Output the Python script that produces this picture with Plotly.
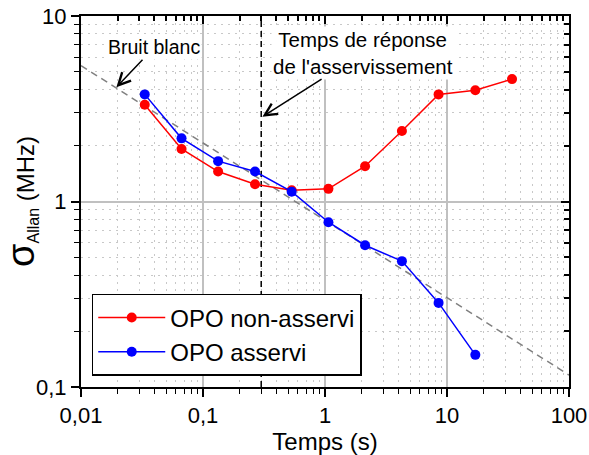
import plotly.graph_objects as go

# ---- data ----
tau = [0.0333, 0.0667, 0.133, 0.267, 0.533, 1.067, 2.13, 4.27, 8.53, 17.07, 34.13]
sigma_free = [3.32, 1.92, 1.45, 1.24, 1.15, 1.17, 1.55, 2.40, 3.78, 3.98, 4.57]
tau_locked = [0.0333, 0.0667, 0.133, 0.267, 0.533, 1.067, 2.13, 4.27, 8.53, 17.07]
sigma_locked = [3.78, 2.19, 1.65, 1.45, 1.13, 0.773, 0.581, 0.477, 0.284, 0.149]
noise_x = [0.01, 100]
noise_y = [5.4, 0.116]
response_time = 0.3
x_tickvals = [0.01, 0.1, 1, 10, 100]
x_ticktext = ["0,01", "0,1", "1", "10", "100"]
y_tickvals = [0.1, 1, 10]
y_ticktext = ["0,1", "1", "10"]

FONT = "Liberation Sans, Arial, sans-serif"
minor_x = [m * 10 ** e for e in range(-2, 2) for m in range(2, 10)]
minor_y = [m * 10 ** e for e in range(-1, 1) for m in range(2, 10)]

fig = go.Figure()
fig.add_trace(go.Scatter(x=noise_x, y=noise_y, mode="lines",
                         line=dict(color="#808080", width=1.5, dash="7px,5px"),
                         showlegend=False, hoverinfo="skip"))
fig.add_trace(go.Scatter(x=[response_time, response_time], y=[0.1, 10], mode="lines",
                         line=dict(color="black", width=1.5, dash="6px,4px"),
                         showlegend=False, hoverinfo="skip"))
fig.add_trace(go.Scatter(x=tau, y=sigma_free, mode="lines+markers", name="OPO non-asservi",
                         line=dict(color="#ff0000", width=1.5),
                         marker=dict(color="#ff0000", size=10)))
fig.add_trace(go.Scatter(x=tau_locked, y=sigma_locked, mode="lines+markers", name="OPO asservi",
                         line=dict(color="#0000ff", width=1.5),
                         marker=dict(color="#0000ff", size=10)))
# dummy trace for the mirrored inner-tick axes
fig.add_trace(go.Scatter(x=[1], y=[1], xaxis="x2", yaxis="y2", mode="markers",
                         marker=dict(opacity=0), showlegend=False, hoverinfo="skip"))

common_minor = dict(ticks="outside", ticklen=5, tickcolor="black", tickwidth=1,
                    showgrid=True, gridcolor="#c8c8c8", gridwidth=1, griddash="2px,5px")

fig.update_layout(
    width=589, height=455,
    margin=dict(l=81, r=20, t=16, b=68),
    paper_bgcolor="white", plot_bgcolor="white",
    font=dict(family=FONT, size=22, color="black"),
    xaxis=dict(type="log", range=[-2, 2], tickvals=x_tickvals, ticktext=x_ticktext,
               ticks="outside", ticklen=8, tickwidth=1.5, tickcolor="black",
               showline=True, linecolor="black", linewidth=2, mirror=True,
               showgrid=True, gridcolor="#c0c0c0", gridwidth=1.5,
               zeroline=False, automargin=False,
               tickfont=dict(size=22),
               title=dict(text="Temps (s)", font=dict(size=24), standoff=2),
               minor=dict(tickvals=minor_x, **common_minor)),
    yaxis=dict(type="log", range=[-1, 1], tickvals=y_tickvals, ticktext=y_ticktext,
               ticks="outside", ticklen=8, tickwidth=1.5, tickcolor="black",
               showline=True, linecolor="black", linewidth=2, mirror=True,
               showgrid=True, gridcolor="#c0c0c0", gridwidth=1.5,
               zeroline=False, automargin=False,
               tickfont=dict(size=22),
               title=dict(text="<span style='font-size:38px'>σ</span><sub><span style='font-size:16px'>Allan</span></sub> (MHz)",
                          font=dict(size=24), standoff=4),
               minor=dict(tickvals=minor_y, **common_minor)),
    xaxis2=dict(type="log", range=[-2, 2], overlaying="x", side="top", anchor="y",
                tickvals=x_tickvals, showticklabels=False, ticks="inside", ticklen=8,
                tickcolor="black", tickwidth=1.5, showgrid=False, showline=False, automargin=False,
                minor=dict(tickvals=minor_x, ticks="inside", ticklen=5, tickcolor="black", showgrid=False)),
    yaxis2=dict(type="log", range=[-1, 1], overlaying="y", side="right", anchor="x2",
                tickvals=y_tickvals, showticklabels=False, ticks="inside", ticklen=8,
                tickcolor="black", tickwidth=1.5, showgrid=False, showline=False, automargin=False,
                minor=dict(tickvals=minor_y, ticks="inside", ticklen=5, tickcolor="black", showgrid=False)),
    legend=dict(x=0.022, y=0.03, xanchor="left", yanchor="bottom",
                bgcolor="white", bordercolor="black", borderwidth=1.5,
                font=dict(size=24), itemwidth=67, tracegroupgap=0),
    showlegend=True,
)

fig.add_annotation(x=-1.71, y=0.616, xref="x", yref="y", text="Bruit blanc",
                   showarrow=True, ax=38, ay=-40, arrowhead=5, arrowsize=1.6, arrowwidth=1.5,
                   arrowcolor="black", bgcolor="white", font=dict(size=19.5))
fig.add_annotation(x=-0.513, y=0.457, xref="x", yref="y",
                   text="Temps de réponse<br>de l'asservissement",
                   showarrow=True, ax=101, ay=-64, arrowhead=5, arrowsize=1.6, arrowwidth=1.5,
                   arrowcolor="black", bgcolor="white", font=dict(size=20.5))

fig.write_html("out.html", config={"displayModeBar": False},
               post_script="document.body.style.margin='0';document.body.style.overflow='hidden';")
